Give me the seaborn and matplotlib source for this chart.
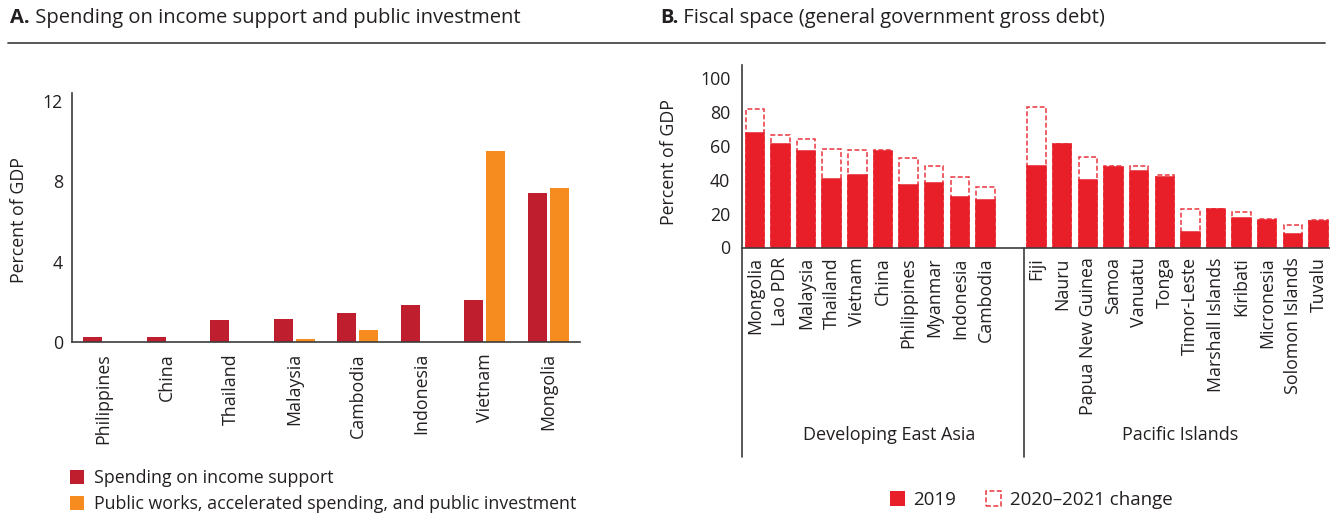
import matplotlib
matplotlib.use("Agg")
import numpy as np
import pandas as pd
import matplotlib.pyplot as plt
import matplotlib.transforms as mtransforms
from matplotlib.lines import Line2D
from matplotlib.patches import Rectangle
import seaborn as sns

# ---- Panel A: spending on income support and public investment (% of GDP)
countries_a = ["Philippines", "China", "Thailand", "Malaysia", "Cambodia",
               "Indonesia", "Vietnam", "Mongolia"]
income_support = [0.26, 0.26, 1.07, 1.16, 1.46, 1.84, 2.10, 7.40]
public_investment = [0.0, 0.0, 0.0, 0.17, 0.58, 0.0, 9.52, 7.68]
series_a = ["Spending on income support",
            "Public works, accelerated spending, and public investment"]
yticks_a = [0, 4, 8, 12]

# ---- Panel B: general government gross debt (% of GDP)
east_asia = ["Mongolia", "Lao PDR", "Malaysia", "Thailand", "Vietnam", "China",
             "Philippines", "Myanmar", "Indonesia", "Cambodia"]
debt_2019_ea = [67.6, 61.2, 56.5, 40.4, 42.7, 56.9, 36.5, 38.0, 30.0, 28.2]
change_ea = [14.2, 4.9, 7.6, 17.8, 14.6, 0.4, 15.9, 10.2, 11.2, 7.5]

pacific = ["Fiji", "Nauru", "Papua New Guinea", "Samoa", "Vanuatu", "Tonga",
           "Timor-Leste", "Marshall Islands", "Kiribati", "Micronesia",
           "Solomon Islands", "Tuvalu"]
debt_2019_pi = [48.2, 61.2, 39.8, 47.3, 44.9, 41.2, 9.2, 22.9, 17.5, 16.3, 8.0, 15.7]
change_pi = [34.3, 0.0, 13.3, 0.5, 2.9, 1.5, 13.5, 0.0, 3.1, 0.2, 5.3, 0.2]
groups_b = ["Developing East Asia", "Pacific Islands"]
yticks_b = [0, 20, 40, 60, 80, 100]

RED_A = "#be1e2d"
ORANGE = "#f68b1f"
RED_B = "#e81f28"
INK = "#231f20"
SPINE = "#3c3c3c"

sns.set_style("white")
plt.rcParams["font.family"] = ["Open Sans", "DejaVu Sans"]
plt.rcParams["text.color"] = INK
plt.rcParams["axes.labelcolor"] = INK
plt.rcParams["xtick.color"] = INK
plt.rcParams["ytick.color"] = INK

W, H = 1330, 523
fig = plt.figure(figsize=(W / 100, H / 100), dpi=100)


def px_rect(left, top, right, bottom):
    return [left / W, 1 - bottom / H, (right - left) / W, (bottom - top) / H]


FS = 12.8

# ------------------------------------------------------------------ Panel A
axA = fig.add_axes(px_rect(72, 93, 580, 342))
dfa = pd.DataFrame({
    "country": countries_a * 2,
    "value": income_support + public_investment,
    "series": [series_a[0]] * len(countries_a) + [series_a[1]] * len(countries_a),
})
sns.barplot(data=dfa, x="country", y="value", hue="series", order=countries_a,
            hue_order=series_a, palette=[RED_A, ORANGE], saturation=1,
            width=0.7, gap=0.14, errorbar=None, linewidth=0, ax=axA)
axA.set_xlim(-0.5, len(countries_a) - 0.5)
axA.set_ylim(0, 12.38)
axA.set_yticks(yticks_a)
axA.set_xticks(range(len(countries_a)))
axA.set_xticklabels(countries_a, rotation=90, fontsize=FS)
axA.tick_params(axis="both", length=0, labelsize=FS)
axA.tick_params(axis="y", pad=6.5)
axA.tick_params(axis="x", pad=8)
axA.set_xlabel("")
axA.set_ylabel("Percent of GDP", fontsize=FS)
axA.yaxis.set_label_coords(-0.086, 0.49)
handles_a, labels_a = axA.get_legend_handles_labels()
axA.get_legend().remove()

# ------------------------------------------------------------------ Panel B
axB = fig.add_axes(px_rect(742, 65, 1330, 247.5))
order_b = east_asia + [""] + pacific
dfb = pd.DataFrame({
    "country": east_asia + pacific,
    "debt_2019": debt_2019_ea + debt_2019_pi,
    "change": change_ea + change_pi,
})
dfb["debt_2021"] = dfb["debt_2019"] + dfb["change"]

# dashed outline spans up to the 2021 level; the solid 2019 bar is drawn over it
sns.barplot(data=dfb, x="country", y="debt_2021", order=order_b, color=RED_B,
            fill=False, saturation=1, width=0.72, errorbar=None,
            linewidth=1.1, linestyle=(0, (3.2, 1.6)), alpha=0.9, ax=axB)
sns.barplot(data=dfb, x="country", y="debt_2019", order=order_b, color=RED_B,
            saturation=1, width=0.72, errorbar=None, linewidth=1.1,
            edgecolor=RED_B, ax=axB)
axB.set_xlim(-0.5, len(order_b) - 0.55)
axB.set_ylim(0, 107.4)
axB.set_yticks(yticks_b)
axB.set_xticks(range(len(order_b)))
axB.set_xticklabels(order_b, rotation=90, fontsize=FS)
axB.tick_params(axis="both", length=0, labelsize=FS)
axB.tick_params(axis="y", pad=8.4)
axB.tick_params(axis="x", pad=7)
axB.set_xlabel("")
axB.set_ylabel("Percent of GDP", fontsize=FS)
axB.yaxis.set_label_coords(-0.108, 0.47)

# group separators below the axis and group names
trans_b = mtransforms.blended_transform_factory(axB.transData, axB.transAxes)
sep_bottom = (247.5 - 457) / 182.5
for xv in (-0.5, len(east_asia) + 0.5):
    axB.add_line(Line2D([xv, xv], [0, sep_bottom], transform=trans_b,
                        clip_on=False, color=SPINE, lw=1.2))
label_y = (247.5 - 435) / 182.5
axB.text(5.25, label_y, groups_b[0], transform=trans_b, ha="center",
         va="center", fontsize=13)
axB.text(16.6, label_y, groups_b[1], transform=trans_b, ha="center",
         va="center", fontsize=13)

for ax in (axA, axB):
    for side in ("top", "right"):
        ax.spines[side].set_visible(False)
    for side in ("left", "bottom"):
        ax.spines[side].set_color(SPINE)
        ax.spines[side].set_linewidth(1.2)
    ax.grid(False)

# ------------------------------------------------------------------ legends
fig.legend(handles_a, labels_a, loc="upper left",
           bbox_to_anchor=(70 / W, 1 - 469 / H), frameon=False, borderpad=0,
           borderaxespad=0, handlelength=0.8, handleheight=0.8,
           handletextpad=0.55, labelspacing=0.45, fontsize=FS)

LFS = 13.5
handles_b = [Rectangle((0, 0), 1, 1, facecolor=RED_B, edgecolor=RED_B, lw=0),
             Rectangle((0, 0), 1, 1, fill=False, edgecolor=RED_B, lw=1.1,
                       linestyle=(0, (3.2, 1.6)), alpha=0.9)]
fig.legend(handles_b, ["2019", "2020\u20132021 change"], loc="upper left",
           bbox_to_anchor=(890 / W, 1 - 491 / H), ncol=2, frameon=False,
           borderpad=0, borderaxespad=0, handlelength=0.8, handleheight=0.8,
           handletextpad=0.45, columnspacing=1.6, fontsize=LFS)

# ------------------------------------------------------------------ titles
TFS = 14.5
tA = fig.text(10 / W, 1 - 18 / H, "A.", fontweight="bold", fontsize=TFS, va="center")
axA.annotate(" Spending on income support and public investment", xy=(1, 0),
             xycoords=tA, va="bottom", ha="left", fontsize=TFS,
             annotation_clip=False)
tB = fig.text(660 / W, 1 - 18 / H, "B.", fontweight="bold", fontsize=TFS, va="center")
axB.annotate(" Fiscal space (general government gross debt)", xy=(1, 0),
             xycoords=tB, va="bottom", ha="left", fontsize=TFS,
             annotation_clip=False)
fig.add_artist(Line2D([8 / W, 1325 / W], [1 - 43 / H, 1 - 43 / H],
                      color="#4a4a4a", lw=1.3))

fig.savefig("out.png", dpi=100)
